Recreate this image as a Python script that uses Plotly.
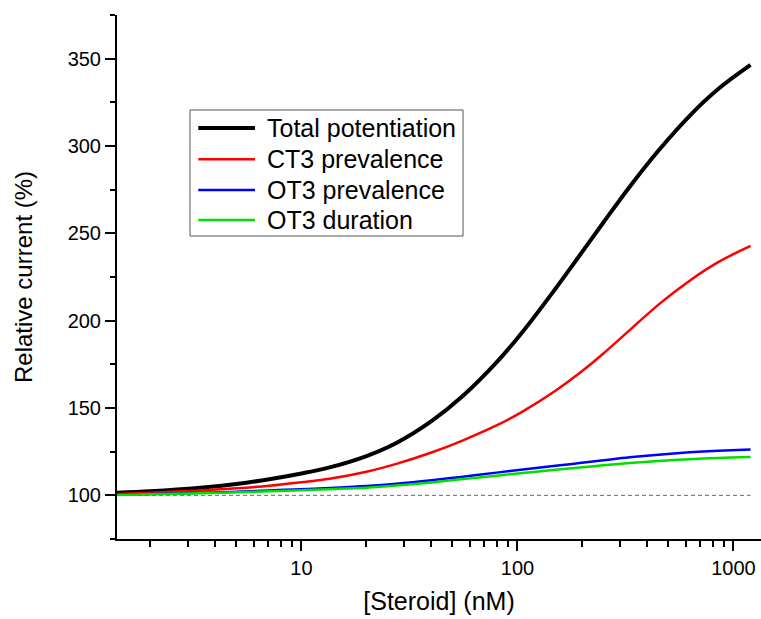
import plotly.graph_objects as go
import math

# Data
conc_nM = [1.4, 2.0, 3.4, 5.0, 7.1, 10, 13.5, 20, 27.5, 40, 56, 80, 106, 150, 194, 250, 331, 450, 627, 850, 1200]
total_potentiation = [101.5, 102.3, 104.3, 106.5, 109.2, 112.5, 116.0, 122.5, 130.0, 142.5, 157.0, 176.1, 193.8, 218.3, 237.3, 256.2, 276.7, 297.4, 317.3, 332.6, 346.4]
ct3_prevalence = [100.8, 101.5, 102.8, 104.0, 105.5, 107.5, 109.5, 113.5, 118.0, 124.5, 131.5, 140.0, 148.1, 159.9, 170.0, 181.2, 194.6, 209.2, 222.9, 233.5, 242.8]
ot3_prevalence = [100.3, 100.7, 101.5, 102.1, 102.8, 103.5, 104.2, 105.3, 106.6, 108.6, 110.7, 113.0, 114.8, 116.9, 118.5, 120.1, 121.8, 123.3, 124.6, 125.5, 126.3]
ot3_duration = [100.2, 100.6, 101.2, 101.7, 102.3, 102.9, 103.5, 104.4, 105.6, 107.4, 109.3, 111.2, 112.8, 114.6, 115.9, 117.2, 118.5, 119.7, 120.7, 121.4, 121.9]
baseline_x = [1.4, 1200]
baseline_y = [100, 100]

series_names = ["Total potentiation", "CT3 prevalence", "OT3 prevalence", "OT3 duration"]
series_colors = ["#000000", "#ff0000", "#0000ff", "#00e000"]
series_widths = [4, 2.5, 2.5, 2.5]
series_values = [total_potentiation, ct3_prevalence, ot3_prevalence, ot3_duration]

x_ticks = [10, 100, 1000]
x_tick_labels = ["10", "100", "1000"]
y_ticks = [100, 150, 200, 250, 300, 350]

FONT = "Arial, Liberation Sans, Helvetica, sans-serif"

fig = go.Figure()
fig.add_trace(go.Scatter(x=baseline_x, y=baseline_y, mode="lines", showlegend=False,
                         line=dict(color="#666666", width=1, dash="4px,3px"), hoverinfo="skip"))
for name, vals, color, w in zip(series_names, series_values, series_colors, series_widths):
    fig.add_trace(go.Scatter(x=conc_nM, y=vals, mode="lines", name=name, showlegend=False,
                             line=dict(color=color, width=w, shape="spline", smoothing=1.0)))

# Manual legend (paper coordinates) to match the reference's box and row spacing
leg_box = dict(x0=0.1134, x1=0.5373, y0=0.5782, y1=0.8187)
leg_rows_y = [0.7844, 0.7246, 0.6660, 0.6088]
leg_line_x = (0.1262, 0.2143)
leg_text_x = 0.2298

shapes = [dict(type="rect", xref="paper", yref="paper", layer="above",
               x0=leg_box["x0"], x1=leg_box["x1"], y0=leg_box["y0"], y1=leg_box["y1"],
               line=dict(color="#555555", width=1), fillcolor="white")]
annotations = []
for name, color, w, yy in zip(series_names, series_colors, series_widths, leg_rows_y):
    shapes.append(dict(type="line", xref="paper", yref="paper", layer="above",
                       x0=leg_line_x[0], x1=leg_line_x[1], y0=yy, y1=yy,
                       line=dict(color=color, width=w)))
    annotations.append(dict(xref="paper", yref="paper", x=leg_text_x, y=yy,
                            xanchor="left", yanchor="middle", showarrow=False,
                            text=name, font=dict(size=25, family=FONT, color="black")))

x0 = math.log10(1.40)
x1 = x0 + 644 / 216

fig.update_layout(
    width=761, height=619,
    margin=dict(l=117, r=0, t=15, b=80),
    paper_bgcolor="white", plot_bgcolor="white",
    font=dict(family=FONT, color="black"),
    showlegend=False,
    shapes=shapes, annotations=annotations,
)
fig.update_xaxes(
    type="log", range=[x0, x1], automargin=False,
    tickvals=x_ticks, ticktext=x_tick_labels,
    ticks="outside", ticklen=10, tickwidth=2, tickcolor="black",
    showline=True, linewidth=2, linecolor="black", mirror=False,
    showgrid=False, zeroline=False,
    tickfont=dict(size=20, family=FONT),
    minor=dict(ticks="outside", ticklen=6, tickwidth=2, tickcolor="black", dtick="D1", showgrid=False),
    title=dict(text="[Steroid] (nM)", font=dict(size=25, family=FONT), standoff=14),
)
fig.update_yaxes(
    range=[75, 375], automargin=False,
    tickvals=y_ticks,
    ticks="outside", ticklen=10, tickwidth=2, tickcolor="black",
    showline=True, linewidth=2, linecolor="black", mirror=False,
    showgrid=False, zeroline=False,
    tickfont=dict(size=20, family=FONT),
    minor=dict(ticks="outside", ticklen=5, tickwidth=2, tickcolor="black", dtick=25, tick0=75, showgrid=False),
    title=dict(text="Relative current (%)", font=dict(size=24, family=FONT), standoff=28),
)

fig.write_html("out.html", config={"displayModeBar": False},
               post_script="document.body.style.margin='0px';document.body.style.padding='0px';")
